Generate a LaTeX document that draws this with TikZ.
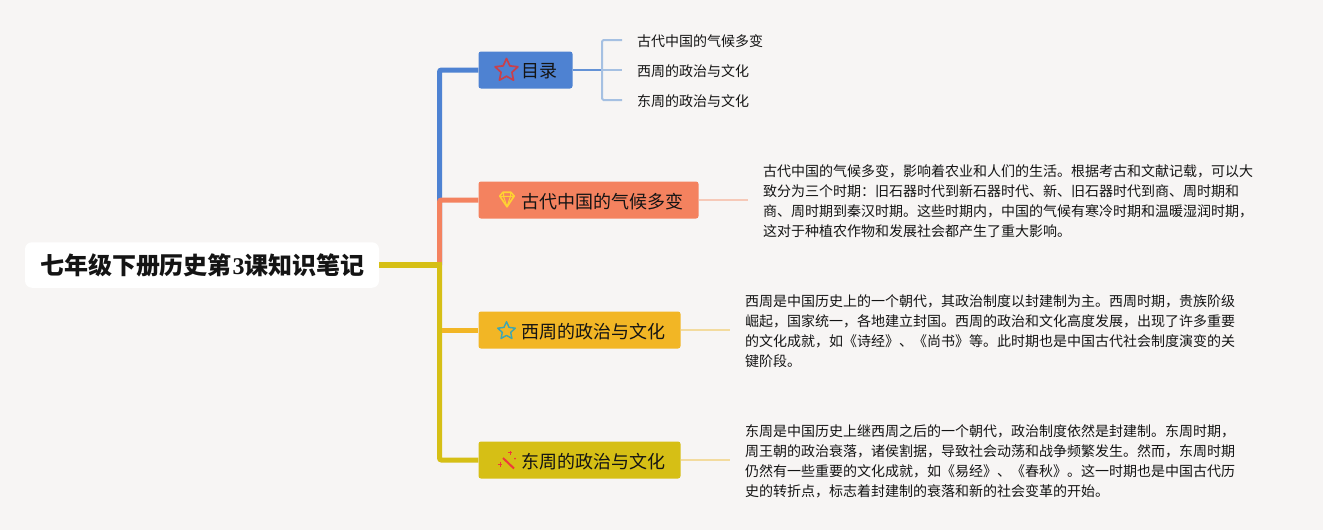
\documentclass[tikz,border=0pt]{standalone}
\usepackage{fontspec}
\setmainfont{Noto Sans CJK SC}
\newfontfamily\latinserif{Liberation Serif}
\usetikzlibrary{shapes.geometric}
\definecolor{bgc}{HTML}{F7F5F4}
\definecolor{blueb}{HTML}{4E82D2}
\definecolor{orangeb}{HTML}{F4825F}
\definecolor{amberb}{HTML}{F2B625}
\definecolor{oliveb}{HTML}{D6BF15}
\definecolor{bluel}{HTML}{A5C0E2}
\definecolor{orangel}{HTML}{F6C9B8}
\definecolor{amberl}{HTML}{F3DB9E}
\definecolor{inkc}{HTML}{141414}
\definecolor{starred}{HTML}{C8404C}
\definecolor{starteal}{HTML}{3CA6B4}
\definecolor{gemc}{HTML}{FFD232}
\definecolor{wandc}{HTML}{EE3A3A}
\tikzset{
  x=1pt,y=-1pt,
  headbox/.style={rounded corners=2.5pt,inner sep=0pt,text=inkc,font=\fontsize{18}{18}\selectfont},
  rootbox/.style={rounded corners=7pt,fill=white,inner sep=0pt,text=inkc,font=\fontsize{24}{24}\selectfont\bfseries},
  subtext/.style={anchor=west,inner sep=0pt,text=inkc,font=\fontsize{14}{14}\selectfont},
  bodytext/.style={anchor=west,inner sep=0pt,align=left,text=inkc,font=\fontsize{14}{20}\selectfont},
  trunk/.style={line width=5pt,rounded corners=2pt},
  twig/.style={line width=2pt},
  staricon/.style={star,star points=5,star point ratio=2.1,draw,fill=none,inner sep=0pt,outer sep=0pt,line join=round},
  gemline/.style={draw=gemc,line width=1.6pt,line join=round},
  wandline/.style={draw=wandc,line width=1.3pt},
}
\begin{document}
\begin{tikzpicture}
\useasboundingbox[fill=bgc] (0,0) rectangle (1323,530);
% boxes
\node[rootbox,minimum width=354pt,minimum height=45.5pt] (root) at (202,265) {\raisebox{-0.5pt}{\kern1pt 七年级下册历史第\kern0.5pt{\latinserif 3}\kern0.5pt 课知识笔记}};
\node[headbox,fill=blueb,minimum width=94pt,minimum height=37pt] (mulu) at (525.5,70) {};
\node[headbox,fill=orangeb,minimum width=220pt,minimum height=37pt] (gudai) at (588.5,200) {};
\node[headbox,fill=amberb,minimum width=202pt,minimum height=37pt] (xizhou) at (579.5,330) {};
\node[headbox,fill=oliveb,minimum width=202pt,minimum height=37pt] (dongzhou) at (579.5,460) {};
% header labels
\node[headbox,anchor=west] (mululabel) at (521,71.3) {目录};
\node[headbox,anchor=west] (gudailabel) at (521,201.3) {古代中国的气候多变};
\node[headbox,anchor=west] (xizhoulabel) at (521,331.3) {西周的政治与文化};
\node[headbox,anchor=west] (dongzhoulabel) at (521,461.3) {东周的政治与文化};
% icons
\node[staricon,draw=starred,line width=1.7pt,minimum size=24pt] (staricona) at (506.5,70.5) {};
\node[staricon,draw=starteal,line width=1.4pt,minimum size=18.5pt] (stariconb) at (506.5,331) {};
% gem
\path[gemline] (499.7,196) -- (503,192.2) -- (510.8,192.2) -- (514.2,196) -- (507,206.8) -- cycle;
\path[gemline,line width=1pt] (499.7,196.3) -- (514.2,196.3) (503.5,192.5) -- (503.5,196.3) -- (507,206.8) -- (510.5,196.3) -- (510.5,192.5);
% wand
\draw[wandc,line width=2pt] (503,458) -- (514,468.5);
\path[wandline,line width=1pt] (510,450.5) -- (510,455) (507.8,452.7) -- (512.2,452.7);
\path[wandline,line width=1pt] (500,462) -- (500,466.5) (497.8,464.2) -- (502.2,464.2);
\fill[wandc] (515,458.7) circle (1pt);
% junctions
\coordinate (hub) at (439.5,265);
\coordinate (muluhub) at (602,70);
\coordinate (muluone) at (622,40);
\coordinate (mulutwo) at (622,70);
\coordinate (muluthree) at (622,100);
% sub
\node[subtext] (suba) at (637,41.3) {古代中国的气候多变};
\node[subtext] (subb) at (637,71.3) {西周的政治与文化};
\node[subtext] (subc) at (637,101.3) {东周的政治与文化};
% body
\node[bodytext] (bodya) at (763,201.5) {古代中国的气候多变，影响着农业和人们的生活。根据考古和文献记载，可以大\\致分为三个时期：旧石器时代到新石器时代、新、旧石器时代到商、周时期和\\商、周时期到秦汉时期。这些时期内，中国的气候有寒冷时期和温暖湿润时期，\\这对于种植农作物和发展社会都产生了重大影响。};
\node[bodytext] (bodyb) at (745,331.5) {西周是中国历史上的一个朝代，其政治制度以封建制为主。西周时期，贵族阶级\\崛起，国家统一，各地建立封国。西周的政治和文化高度发展，出现了许多重要\\的文化成就，如《诗经》、《尚书》等。此时期也是中国古代社会制度演变的关\\键阶段。};
\node[bodytext] (bodyc) at (745,461.5) {东周是中国历史上继西周之后的一个朝代，政治制度依然是封建制。东周时期，\\周王朝的政治衰落，诸侯割据，导致社会动荡和战争频繁发生。然而，东周时期\\仍然有一些重要的文化成就，如《易经》、《春秋》。这一时期也是中国古代历\\史的转折点，标志着封建制的衰落和新的社会变革的开始。};
% connectors
\draw[trunk,blueb] (hub) |- (mulu.west);
\draw[trunk,orangeb] (hub) |- (gudai.west);
\draw[trunk,oliveb] (hub) |- (dongzhou.west);
\draw[line width=5pt,amberb] (442,330) -- (xizhou.west);
\draw[line width=6pt,oliveb] (root.east) -- (442,265);
\draw[twig,blueb!75!bluel] (mulu.east) -- (muluhub);
\draw[twig,bluel,rounded corners=1.5pt] (muluone) -| (muluhub);
\draw[twig,bluel,rounded corners=1.5pt] (muluthree) -| (muluhub);
\draw[twig,bluel] (muluhub) -- (mulutwo);
\coordinate (gudaiend) at (748,200);
\coordinate (xizhouend) at (730,330);
\coordinate (dongzhouend) at (730,460);
\draw[twig,orangel] (gudai.east) -- (gudaiend);
\draw[twig,amberl] (xizhou.east) -- (xizhouend);
\draw[twig,amberl] (dongzhou.east) -- (dongzhouend);
\end{tikzpicture}
\end{document}
